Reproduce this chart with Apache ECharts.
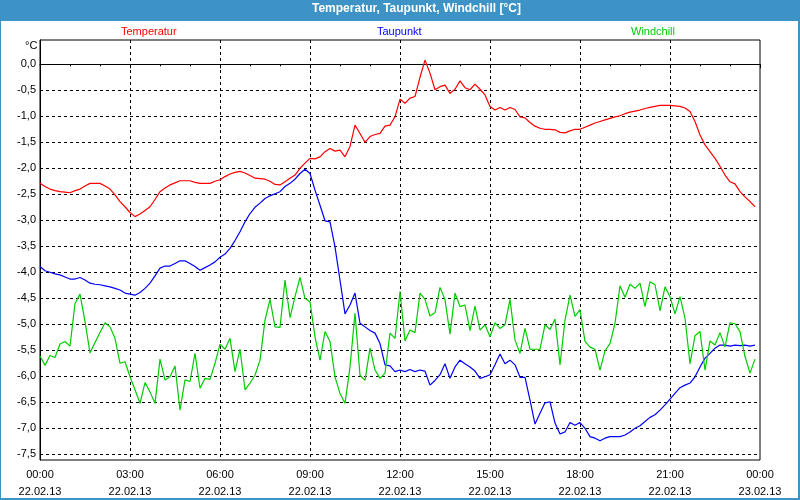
<!DOCTYPE html>
<html>
<head>
<meta charset="utf-8">
<script src="https://cdn.jsdelivr.net/npm/echarts@6/dist/echarts.min.js"></script>
<style>
html,body{margin:0;padding:0;background:#fff;}
#chart{width:800px;height:500px;}
</style>
</head>
<body>
<div id="chart"></div>
<script>
// Sampling step of the series, in hours (10 minutes)
const stepHours = 1 / 6;

const seriesNames = ['Temperatur', 'Taupunkt', 'Windchill'];

const temperatur = [
 -2.29,-2.35,-2.40,-2.43,-2.45,-2.46,-2.47,-2.43,-2.40,-2.34,
 -2.29,-2.29,-2.29,-2.34,-2.40,-2.51,-2.64,-2.74,-2.85,-2.93,
 -2.88,-2.81,-2.74,-2.60,-2.45,-2.38,-2.32,-2.28,-2.24,-2.24,
 -2.24,-2.27,-2.29,-2.29,-2.29,-2.25,-2.22,-2.16,-2.11,-2.08,
 -2.06,-2.09,-2.14,-2.19,-2.20,-2.21,-2.25,-2.31,-2.32,-2.26,
 -2.19,-2.13,-2.00,-1.90,-1.81,-1.82,-1.78,-1.68,-1.62,-1.67,
 -1.65,-1.78,-1.58,-1.17,-1.33,-1.50,-1.39,-1.35,-1.33,-1.19,
 -1.17,-1.01,-0.67,-0.75,-0.65,-0.62,-0.25,0.08,-0.17,-0.49,
 -0.43,-0.40,-0.56,-0.48,-0.32,-0.45,-0.49,-0.38,-0.48,-0.59,
 -0.81,-0.88,-0.83,-0.88,-0.83,-0.87,-1.01,-1.03,-1.12,-1.19,
 -1.23,-1.25,-1.25,-1.26,-1.31,-1.32,-1.28,-1.25,-1.25,-1.21,
 -1.17,-1.13,-1.10,-1.07,-1.04,-1.01,-0.99,-0.95,-0.92,-0.90,
 -0.88,-0.85,-0.83,-0.81,-0.79,-0.79,-0.79,-0.80,-0.81,-0.84,
 -0.91,-1.10,-1.36,-1.55,-1.68,-1.81,-1.96,-2.13,-2.26,-2.30,
 -2.45,-2.55,-2.64,-2.74
];

const taupunkt = [
 -3.89,-3.97,-4.00,-4.03,-4.05,-4.09,-4.13,-4.13,-4.10,-4.15,
 -4.21,-4.23,-4.24,-4.26,-4.28,-4.31,-4.34,-4.40,-4.42,-4.44,
 -4.39,-4.31,-4.21,-4.07,-3.92,-3.88,-3.88,-3.83,-3.78,-3.78,
 -3.83,-3.89,-3.96,-3.91,-3.86,-3.80,-3.71,-3.65,-3.54,-3.39,
 -3.22,-3.03,-2.87,-2.75,-2.67,-2.58,-2.53,-2.49,-2.45,-2.35,
 -2.29,-2.21,-2.10,-2.02,-2.10,-2.42,-2.71,-3.01,-3.03,-3.51,
 -4.15,-4.80,-4.63,-4.40,-4.98,-5.05,-5.12,-5.17,-5.37,-5.78,
 -5.80,-5.91,-5.88,-5.91,-5.87,-5.91,-5.88,-5.90,-6.17,-6.08,
 -5.97,-5.76,-6.04,-5.82,-5.69,-5.76,-5.82,-5.90,-6.04,-6.01,
 -5.97,-5.78,-5.57,-5.76,-5.69,-5.78,-6.02,-6.02,-6.46,-6.92,
 -6.71,-6.51,-6.49,-6.90,-7.11,-7.07,-6.89,-6.94,-6.89,-7.00,
 -7.16,-7.19,-7.24,-7.19,-7.16,-7.16,-7.16,-7.13,-7.07,-7.00,
 -6.95,-6.87,-6.79,-6.74,-6.65,-6.55,-6.44,-6.33,-6.22,-6.17,
 -6.13,-6.01,-5.82,-5.65,-5.56,-5.46,-5.40,-5.40,-5.42,-5.40,
 -5.41,-5.40,-5.42,-5.40
];

const windchill = [
 -5.61,-5.79,-5.60,-5.64,-5.38,-5.33,-5.42,-4.60,-4.42,-4.95,
 -5.55,-5.35,-5.16,-4.97,-5.05,-5.27,-5.75,-5.72,-6.01,-6.26,
 -6.52,-6.12,-6.30,-6.52,-5.67,-6.07,-6.01,-5.80,-6.65,-6.07,
 -6.10,-5.56,-6.23,-6.04,-6.06,-5.75,-5.38,-5.48,-5.27,-5.91,
 -5.48,-6.26,-6.13,-5.98,-5.69,-4.92,-4.52,-5.05,-5.06,-4.15,
 -4.87,-4.47,-4.10,-4.50,-4.57,-5.24,-5.69,-5.14,-5.33,-6.01,
 -6.33,-6.52,-5.82,-4.79,-5.98,-6.08,-5.46,-5.88,-6.04,-5.94,
 -5.17,-5.27,-4.37,-5.32,-5.11,-5.16,-4.40,-4.52,-4.84,-4.78,
 -4.29,-4.53,-5.19,-4.40,-4.66,-4.63,-5.12,-4.65,-5.11,-5.01,
 -5.24,-4.97,-5.08,-5.01,-4.52,-5.30,-5.56,-5.08,-5.48,-5.48,
 -5.48,-5.01,-5.10,-4.90,-5.78,-4.92,-4.44,-4.85,-4.72,-5.33,
 -5.44,-5.48,-5.88,-5.51,-5.37,-4.98,-4.26,-4.48,-4.23,-4.31,
 -4.21,-4.66,-4.18,-4.24,-4.74,-4.28,-4.47,-4.80,-4.47,-4.88,
 -5.76,-5.22,-5.14,-5.88,-5.32,-5.40,-5.16,-5.44,-4.97,-4.99,
 -5.14,-5.62,-5.94,-5.67
];

// Axis tick labels
const yTickValues = [0, -0.5, -1, -1.5, -2, -2.5, -3, -3.5, -4, -4.5, -5, -5.5, -6, -6.5, -7, -7.5];
const xTimeLabels = ['00:00','03:00','06:00','09:00','12:00','15:00','18:00','21:00','00:00'];
const xDateLabels = ['22.02.13','22.02.13','22.02.13','22.02.13','22.02.13','22.02.13','22.02.13','22.02.13','23.02.13'];

const colors = ['#ff0000', '#0000ff', '#00cc00'];
const FONT = 'Liberation Sans, Arial, sans-serif';

function toPairs(arr) {
  return arr.map((v, i) => [i * stepHours, v]);
}

const chart = echarts.init(document.getElementById('chart'), null, {renderer: 'canvas'});

const option = {
  animation: false,
  backgroundColor: '#ffffff',
  title: {
    text: 'Temperatur, Taupunkt, Windchill [°C]',
    left: 312,
    top: 3,
    padding: 0,
    textStyle: {color: '#ffffff', fontFamily: FONT, fontWeight: 'bold', fontSize: 12}
  },
  legend: [
    {left: 115, top: 26, data: [{name: seriesNames[0], textStyle: {color: colors[0]}}]},
    {left: 371, top: 26, data: [{name: seriesNames[1], textStyle: {color: colors[1]}}]},
    {left: 625, top: 26, data: [{name: seriesNames[2], textStyle: {color: colors[2]}}]}
  ].map(l => Object.assign(l, {
    itemWidth: 0, itemHeight: 0, padding: 0, selectedMode: false,
    textStyle: Object.assign({fontFamily: FONT, fontSize: 11}, {})
  })),
  graphic: [
    {type: 'rect', z: -10, shape: {x: 0, y: 0, width: 800, height: 21}, style: {fill: '#3d93c6'}},
    {type: 'rect', z: 100, shape: {x: 0.5, y: 0.5, width: 798, height: 498}, style: {fill: null, stroke: '#3d93c6', lineWidth: 1}},
    {type: 'rect', z: 100, shape: {x: 798, y: 0, width: 2, height: 500}, style: {fill: '#3d93c6'}},
    {type: 'rect', z: 100, shape: {x: 0, y: 498, width: 800, height: 2}, style: {fill: '#3d93c6'}},
    {type: 'text', left: 25, top: 40, style: {text: '°C', fill: '#000', font: '11px ' + FONT}}
  ],
  grid: {
    left: 40, top: 40, width: 720, height: 420,
    show: true, borderColor: '#000', borderWidth: 1, backgroundColor: 'transparent'
  },
  xAxis: {
    type: 'value',
    min: 0, max: 24, interval: 3,
    axisLine: {lineStyle: {color: '#000', width: 1}},
    axisTick: {show: true, length: 4, lineStyle: {color: '#000'}},
    minorTick: {show: true, splitNumber: 3, length: 2, lineStyle: {color: '#000'}},
    splitLine: {show: true, showMinLine: false, showMaxLine: false, lineStyle: {color: '#000', type: [3, 3], width: 1}},
    axisLabel: {
      color: '#000', fontFamily: FONT, fontSize: 11, lineHeight: 17, margin: 6,
      formatter: function (v) { const i = Math.round(v / 3); return xTimeLabels[i] + '\n' + xDateLabels[i]; }
    }
  },
  yAxis: {
    type: 'value',
    min: -7.61, max: 0.467,
    axisLine: {show: true, lineStyle: {color: '#000', width: 1}},
    axisTick: {show: false, customValues: yTickValues},
    splitLine: {show: true, lineStyle: {color: '#000', type: [3, 3], width: 1}},
    axisLabel: {
      customValues: yTickValues,
      color: '#000', fontFamily: FONT, fontSize: 11, margin: 4,
      formatter: function (v) { return v.toFixed(1).replace('.', ','); }
    }
  },
  series: [
    {name: seriesNames[0], type: 'line', data: toPairs(temperatur), color: colors[0], showSymbol: false, symbol: 'none', lineStyle: {width: 1.2}},
    {name: seriesNames[1], type: 'line', data: toPairs(taupunkt), color: colors[1], showSymbol: false, symbol: 'none', lineStyle: {width: 1.2}},
    {name: seriesNames[2], type: 'line', data: toPairs(windchill), color: colors[2], showSymbol: false, symbol: 'none', lineStyle: {width: 1.2}}
  ]
};
chart.setOption(option);
</script>
</body>
</html>
